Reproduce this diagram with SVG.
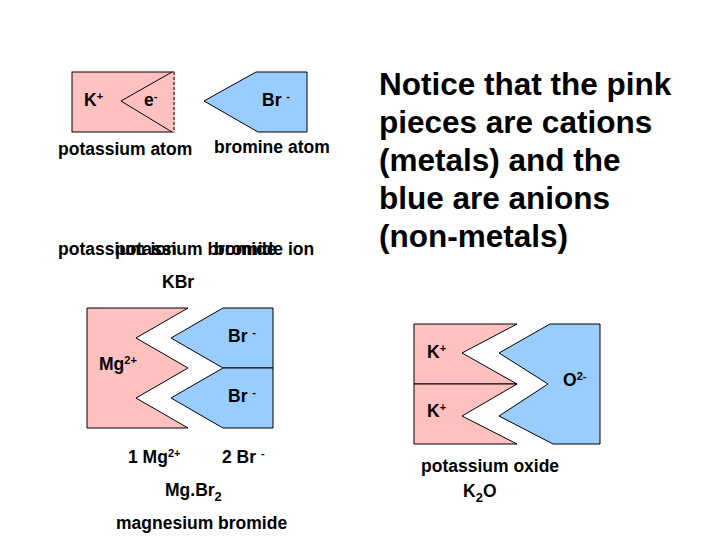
<svg xmlns="http://www.w3.org/2000/svg" width="720" height="540" viewBox="0 0 720 540">
<style>
.p{fill:#ffc0c0;stroke:#000;stroke-width:1}
.b{fill:#99ccff;stroke:#000;stroke-width:1}
text{font-family:"Liberation Sans",Arial,sans-serif;font-weight:bold;font-size:17.5px;fill:#000}
.big{font-size:31.5px}
.s{font-size:11px}
</style>
<rect width="720" height="540" fill="#fff"/>
<g id="k-atom">
<rect class="p" x="72" y="72" width="102" height="60"/>
<line x1="174" y1="72" x2="174" y2="132" stroke="#ffc0c0" stroke-width="2"/>
<line x1="174" y1="72" x2="174" y2="132" stroke="#000" stroke-dasharray="3,2"/>
<polyline points="172,72 121,101 172,132" fill="none" stroke="#000"/>
<text x="84" y="106">K<tspan class="s" dy="-6">+</tspan></text>
<text x="144" y="106">e<tspan class="s" dy="-6">-</tspan></text>
</g>
<g id="br-atom">
<polygon class="b" points="204,101 256,72 307,72 307,132 258,132"/>
<text x="262" y="106">Br <tspan class="s" dy="-6">-</tspan></text>
</g>
<text x="58" y="155">potassium atom</text>
<text x="214" y="153">bromine atom</text>
<text x="58" y="255">potassium ion</text>
<text x="115" y="255">potassium bromide</text>
<text x="214" y="255">bromide ion</text>
<text x="162" y="288">KBr</text>
<g id="mg">
<polygon class="p" points="87,308 188,308 136,338 188,368 136,398 188,428 87,428"/>
<text x="99" y="370">Mg<tspan class="s" dy="-6">2+</tspan></text>
</g>
<g id="br1">
<polygon class="b" points="171,338 223,308 273,308 273,368 223,368"/>
<text x="228" y="342">Br <tspan class="s" dy="-6">-</tspan></text>
</g>
<g id="br2">
<polygon class="b" points="171,398 223,368 273,368 273,428 223,428"/>
<text x="228" y="402">Br <tspan class="s" dy="-6">-</tspan></text>
</g>
<text x="128" y="463">1 Mg<tspan class="s" dy="-6">2+</tspan></text>
<text x="222" y="463">2 Br <tspan class="s" dy="-6">-</tspan></text>
<text x="165" y="496">Mg.Br<tspan dy="5" style="font-size:13px">2</tspan></text>
<text x="116" y="529">magnesium bromide</text>
<g id="k1">
<polygon class="p" points="414,324 517,324 462,353 517,384 414,384"/>
<text x="427" y="358">K<tspan class="s" dy="-6">+</tspan></text>
</g>
<g id="k2">
<polygon class="p" points="414,384 517,384 462,416 517,444 414,444"/>
<text x="427" y="417">K<tspan class="s" dy="-6">+</tspan></text>
</g>
<g id="o">
<polygon class="b" points="499,353 550,324 600,324 600,444 553,444 499,416 548,384"/>
<text x="563" y="386">O<tspan class="s" dy="-6">2-</tspan></text>
</g>
<text x="421" y="472">potassium oxide</text>
<text x="463" y="497">K<tspan dy="5" style="font-size:13px">2</tspan><tspan dy="-5">O</tspan></text>
<text class="big" x="379" y="95">Notice that the pink</text>
<text class="big" x="379" y="133">pieces are cations</text>
<text class="big" x="379" y="171">(metals) and the</text>
<text class="big" x="379" y="209">blue are anions</text>
<text class="big" x="379" y="247">(non-metals)</text>
<g id="connectors"/>
</svg>
